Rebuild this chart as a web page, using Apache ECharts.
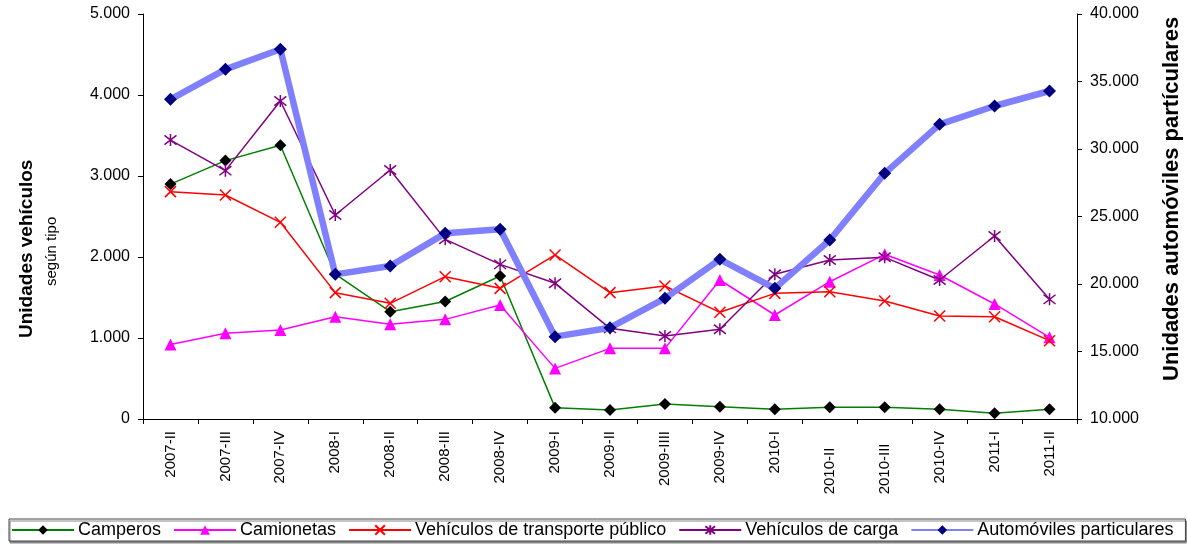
<!DOCTYPE html>
<html>
<head>
<meta charset="utf-8">
<script src="https://cdn.jsdelivr.net/npm/echarts@6/dist/echarts.min.js"></script>
<style>
html,body{margin:0;padding:0;background:#fff;}
#c{width:1187px;height:544px;}
</style>
</head>
<body>
<div id="c"></div>
<script>
var categories = ['2007-II','2007-III','2007-IV','2008-I','2008-II','2008-III','2008-IV','2009-I','2009-II','2009-IIII','2009-IV','2010-I','2010-II    ','2010-III   ','2010-IV','2011-I','2011-II'];
var camperos = [2900,3190,3380,1790,1325,1450,1765,140,110,185,150,120,145,145,120,70,120];
var camionetas = [920,1058,1099,1263,1169,1230,1407,625,872,872,1716,1284,1695,2033,1778,1420,1008];
var transportePublico = [2807,2765,2428,1560,1428,1757,1613,2025,1560,1642,1317,1551,1572,1457,1272,1263,967];
var vehiculosCarga = [3444,3066,3926,2519,3074,2218,1909,1675,1119,1025,1107,1786,1963,1996,1716,2259,1477];
var automoviles = [33680,35900,37385,20715,21333,23753,24050,16100,16765,18938,21827,19679,23259,28198,31827,33185,34296];
var leftTicks = {min:0, max:5000, interval:1000};
var rightTicks = {min:10000, max:40000, interval:5000};

var FONT = 'Liberation Sans, Arial, sans-serif';
function fmt(v){ return String(v).replace(/\B(?=(\d{3})+(?!\d))/g, '.'); }

var chart = echarts.init(document.getElementById('c'));
var xSym = 'path://M0,0L10,10M10,0L0,10';
var starSym = 'path://M0,0L10,10M10,0L0,10M5,-1.5L5,11.5';

chart.setOption({
  animation:false,
  backgroundColor:'#fff',
  textStyle:{fontFamily:FONT},
  grid:{left:143, right:110, top:14, bottom:125, containLabel:false},
  legend:{
    left:9, bottom:3,
    itemWidth:62, itemHeight:12, itemGap:12,
    padding:[2,12,2,2],
    borderColor:'#444', borderWidth:1,
    backgroundColor:'#fff',
    shadowColor:'#888', shadowOffsetX:1, shadowOffsetY:2, shadowBlur:0,
    textStyle:{fontFamily:FONT, fontSize:18, color:'#000', padding:[0,0,0,-1]},
    data:['Camperos','Camionetas','Vehículos de transporte público','Vehículos de carga','Automóviles particulares']
  },
  xAxis:{
    type:'category', data:categories, boundaryGap:true,
    axisLine:{lineStyle:{color:'#000', width:1}},
    axisTick:{show:true, length:5, lineStyle:{color:'#000'}},
    axisLabel:{rotate:90, interval:0, fontFamily:FONT, fontSize:15, color:'#000', margin:12}
  },
  yAxis:[{
    type:'value', min:leftTicks.min, max:leftTicks.max, interval:leftTicks.interval,
    axisLine:{show:true, lineStyle:{color:'#000'}},
    axisTick:{show:true, length:5, lineStyle:{color:'#000'}},
    splitLine:{show:false},
    axisLabel:{formatter:fmt, fontFamily:FONT, fontSize:16, color:'#000', margin:13}
  },{
    type:'value', min:rightTicks.min, max:rightTicks.max, interval:rightTicks.interval,
    position:'right',
    axisLine:{show:true, lineStyle:{color:'#000'}},
    axisTick:{show:true, length:5, lineStyle:{color:'#000'}},
    splitLine:{show:false},
    axisLabel:{formatter:fmt, fontFamily:FONT, fontSize:16, color:'#000', margin:13}
  }],
  graphic:[
    {type:'text', x:17, y:338, rotation:Math.PI/2, style:{text:'Unidades vehículos', font:'bold 19px '+FONT, fill:'#000'}},
    {type:'text', x:44, y:286, rotation:Math.PI/2, style:{text:'según tipo', font:'15px '+FONT, fill:'#000'}},
    {type:'text', x:1161, y:381, rotation:Math.PI/2, style:{text:'Unidades automóviles partículares', font:'bold 22px '+FONT, fill:'#000'}}
  ],
  series:[
    {name:'Camperos', type:'line', data:camperos, yAxisIndex:0,
     symbol:'diamond', symbolSize:12, showAllSymbol:true,
     lineStyle:{color:'#008000', width:1.5}, itemStyle:{color:'#000'}, z:3},
    {name:'Camionetas', type:'line', data:camionetas, yAxisIndex:0,
     symbol:'triangle', symbolSize:12,
     lineStyle:{color:'#FF00FF', width:1.5}, itemStyle:{color:'#FF00FF'}, z:3},
    {name:'Vehículos de transporte público', type:'line', data:transportePublico, yAxisIndex:0,
     symbol:xSym, symbolSize:11,
     lineStyle:{color:'#FF0000', width:1.5}, itemStyle:{color:'#FF0000', borderColor:'#FF0000', borderWidth:1.5}, z:3},
    {name:'Vehículos de carga', type:'line', data:vehiculosCarga, yAxisIndex:0,
     symbol:starSym, symbolSize:12,
     lineStyle:{color:'#800080', width:1.5}, itemStyle:{color:'#800080', borderColor:'#800080', borderWidth:1.5}, z:3},
    {name:'Automóviles particulares', type:'line', data:automoviles, yAxisIndex:1,
     symbol:'diamond', symbolSize:13,
     lineStyle:{color:'#8080FF', width:6.5}, itemStyle:{color:'#000080'}, z:4}
  ]
});
</script>
</body>
</html>
